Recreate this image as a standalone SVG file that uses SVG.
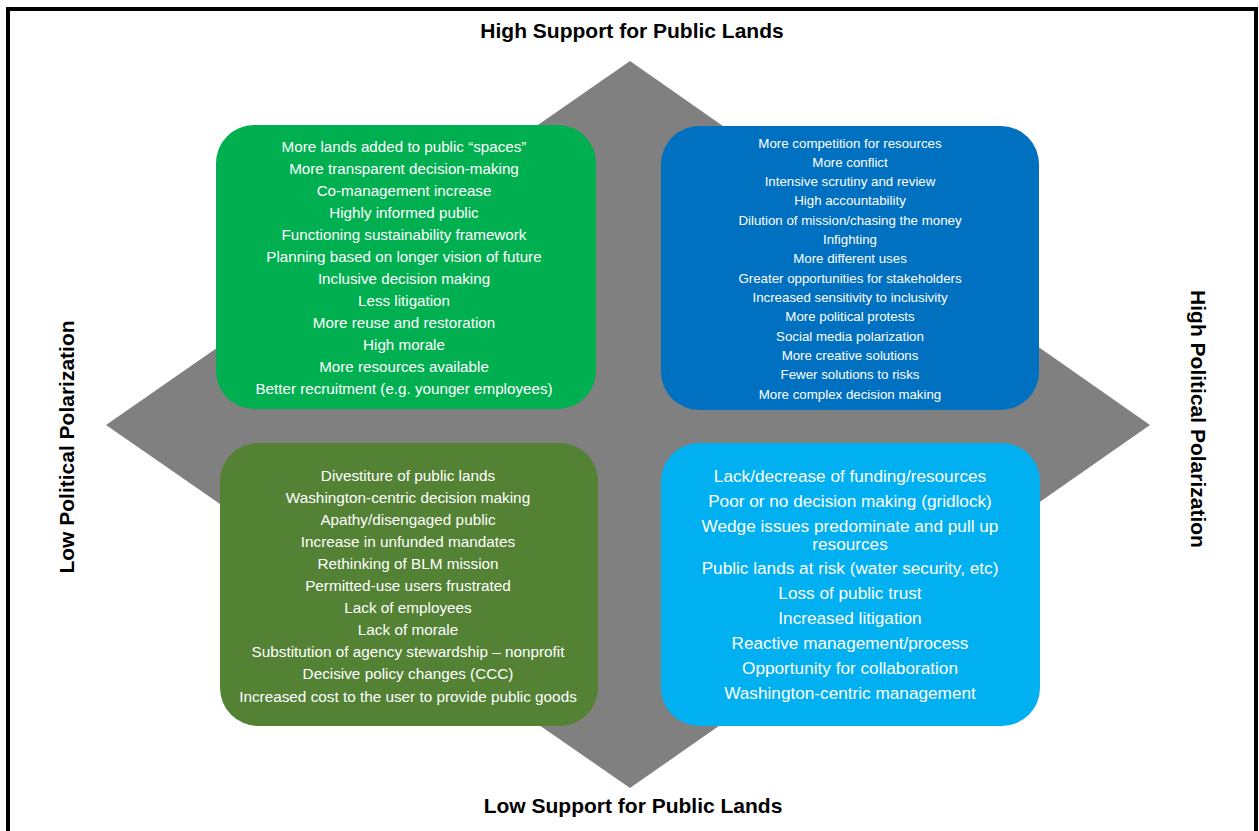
<svg xmlns="http://www.w3.org/2000/svg" width="1259" height="831" viewBox="0 0 1259 831">
<style>
.box text{font-family:"Liberation Sans",Arial,sans-serif;fill:#fff;text-anchor:middle;dominant-baseline:central}
.lbl{font-family:"Liberation Sans",Arial,sans-serif;font-weight:bold;font-size:21px;fill:#000;text-anchor:middle;dominant-baseline:central}
</style>
<rect x="0" y="0" width="1259" height="831" fill="#fff"/>
<rect x="8" y="9" width="1248" height="840" fill="none" stroke="#000" stroke-width="4"/>
<polygon id="diamond" points="630,61 1150,425 630,788 106,425" fill="#808080"/>
<text class="lbl" x="632" y="30">High Support for Public Lands</text>
<text class="lbl" x="633" y="805">Low Support for Public Lands</text>
<text class="lbl" transform="translate(66,447) rotate(-90)">Low Political Polarization</text>
<text class="lbl" transform="translate(1198,419) rotate(90)">High Political Polarization</text>
<g id="box-tl" class="box">
<rect x="216" y="125" width="380" height="284" rx="38" fill="#00B050"/>
<g font-size="15.2">
<text x="404" y="146">More lands added to public “spaces”</text>
<text x="404" y="168">More transparent decision-making</text>
<text x="404" y="190">Co-management increase</text>
<text x="404" y="212">Highly informed public</text>
<text x="404" y="234">Functioning sustainability framework</text>
<text x="404" y="256">Planning based on longer vision of future</text>
<text x="404" y="278">Inclusive decision making</text>
<text x="404" y="300">Less litigation</text>
<text x="404" y="322">More reuse and restoration</text>
<text x="404" y="344">High morale</text>
<text x="404" y="366">More resources available</text>
<text x="404" y="388">Better recruitment (e.g. younger employees)</text>
</g>
</g>
<g id="box-tr" class="box">
<rect x="661" y="126" width="378" height="284" rx="38" fill="#0070C0"/>
<g font-size="13.3">
<text x="850" y="143">More competition for resources</text>
<text x="850" y="162.3">More conflict</text>
<text x="850" y="181.6">Intensive scrutiny and review</text>
<text x="850" y="200.9">High accountability</text>
<text x="850" y="220.2">Dilution of mission/chasing the money</text>
<text x="850" y="239.5">Infighting</text>
<text x="850" y="258.8">More different uses</text>
<text x="850" y="278.1">Greater opportunities for stakeholders</text>
<text x="850" y="297.4">Increased sensitivity to inclusivity</text>
<text x="850" y="316.7">More political protests</text>
<text x="850" y="336">Social media polarization</text>
<text x="850" y="355.3">More creative solutions</text>
<text x="850" y="374.6">Fewer solutions to risks</text>
<text x="850" y="394">More complex decision making</text>
</g>
</g>
<g id="box-bl" class="box">
<rect x="220" y="443" width="378" height="283" rx="38" fill="#548235"/>
<g font-size="15.3">
<text x="408" y="475">Divestiture of public lands</text>
<text x="408" y="497">Washington-centric decision making</text>
<text x="408" y="519">Apathy/disengaged public</text>
<text x="408" y="541">Increase in unfunded mandates</text>
<text x="408" y="563">Rethinking of BLM mission</text>
<text x="408" y="585">Permitted-use users frustrated</text>
<text x="408" y="607">Lack of employees</text>
<text x="408" y="629">Lack of morale</text>
<text x="408" y="651">Substitution of agency stewardship – nonprofit</text>
<text x="408" y="673">Decisive policy changes (CCC)</text>
<text x="408" y="696">Increased cost to the user to provide public goods</text>
</g>
</g>
<g id="box-br" class="box">
<rect x="661" y="443" width="379" height="283" rx="38" fill="#00B0F0"/>
<g font-size="17.2">
<text x="850" y="476">Lack/decrease of funding/resources</text>
<text x="850" y="501">Poor or no decision making (gridlock)</text>
<text x="850" y="526">Wedge issues predominate and pull up</text>
<text x="850" y="544">resources</text>
<text x="850" y="568">Public lands at risk (water security, etc)</text>
<text x="850" y="593">Loss of public trust</text>
<text x="850" y="618">Increased litigation</text>
<text x="850" y="643">Reactive management/process</text>
<text x="850" y="668">Opportunity for collaboration</text>
<text x="850" y="693">Washington-centric management</text>
</g>
</g>
</svg>
